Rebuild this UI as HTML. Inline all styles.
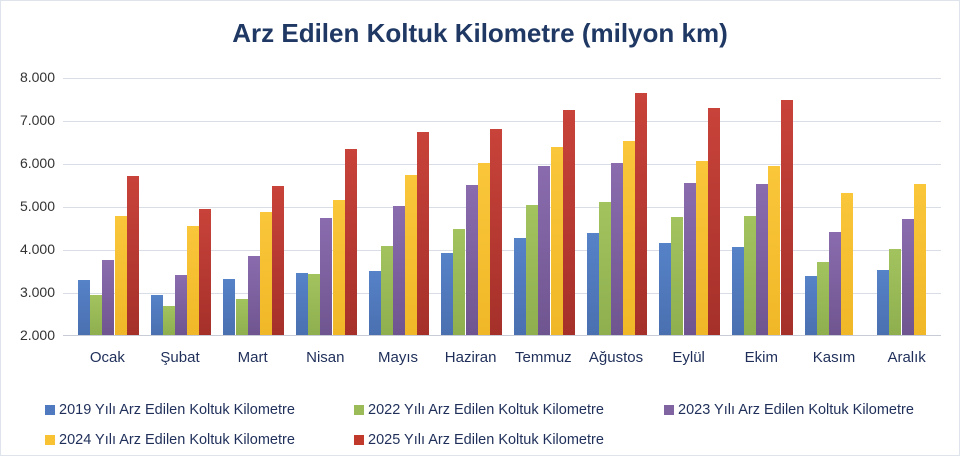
<!DOCTYPE html>
<html><head><meta charset="utf-8"><style>
body{margin:0;background:#fff;font-family:"Liberation Sans",sans-serif}
#c{position:relative;width:958px;height:454px;border:1px solid #dfe3ec;overflow:hidden}
.t{position:absolute;top:17px;left:0;width:958px;text-align:center;font-weight:bold;font-size:26px;color:#1f3864}
.gl{position:absolute;left:62px;width:878px;height:1px;background:#d9dde6}
.yl{position:absolute;left:0;width:54px;text-align:right;font-size:14px;color:#333}
#plot{position:absolute;left:70px;top:0;height:334px;width:872px;display:flex}
.g{width:72.67px;height:334px;display:flex;align-items:flex-end;padding-left:7px;box-sizing:border-box;gap:0.2px;position:relative}
.g div{width:12px}
.a{background:linear-gradient(#5682c8,#4a70b0)}
.b{background:linear-gradient(#a2c35e,#8faf4f)}
.c{background:linear-gradient(#8a6cae,#6f5590)}
.d{background:linear-gradient(#fac63a,#f0b828)}
.e{background:linear-gradient(#c8433a,#a5302a)}
.xl{position:absolute;top:348px;width:72.67px;text-align:center;font-size:15px;color:#1f2f5a}
.lg{position:absolute;font-size:14.5px;color:#1f2f5a;white-space:nowrap}
.lg span{display:inline-block;width:10px;height:10px;margin-right:4px;vertical-align:-1px}
</style></head><body><div id="c">
<div class="t">Arz Edilen Koltuk Kilometre (milyon km)</div>
<div class="gl" style="top:77px"></div><div class="gl" style="top:120px"></div><div class="gl" style="top:163px"></div><div class="gl" style="top:206px"></div><div class="gl" style="top:249px"></div><div class="gl" style="top:292px"></div><div class="gl" style="top:334px;background:#c8ccd6"></div>
<div class="yl" style="top:68px">8.000</div><div class="yl" style="top:111px">7.000</div><div class="yl" style="top:154px">6.000</div><div class="yl" style="top:197px">5.000</div><div class="yl" style="top:240px">4.000</div><div class="yl" style="top:283px">3.000</div><div class="yl" style="top:326px">2.000</div>
<div id="plot">
<div class="g"><div class="a" style="height:55px"></div><div class="b" style="height:40px"></div><div class="c" style="height:75px"></div><div class="d" style="height:119.5px"></div><div class="e" style="height:159px"></div></div>
<div class="g"><div class="a" style="height:40px"></div><div class="b" style="height:29px"></div><div class="c" style="height:60px"></div><div class="d" style="height:109px"></div><div class="e" style="height:126px"></div></div>
<div class="g"><div class="a" style="height:56px"></div><div class="b" style="height:36px"></div><div class="c" style="height:79px"></div><div class="d" style="height:122.6px"></div><div class="e" style="height:149px"></div></div>
<div class="g"><div class="a" style="height:62px"></div><div class="b" style="height:61.5px"></div><div class="c" style="height:117px"></div><div class="d" style="height:135.5px"></div><div class="e" style="height:186px"></div></div>
<div class="g"><div class="a" style="height:64.5px"></div><div class="b" style="height:89px"></div><div class="c" style="height:129px"></div><div class="d" style="height:160.4px"></div><div class="e" style="height:203.4px"></div></div>
<div class="g"><div class="a" style="height:82px"></div><div class="b" style="height:106px"></div><div class="c" style="height:150.5px"></div><div class="d" style="height:172.4px"></div><div class="e" style="height:206.4px"></div></div>
<div class="g"><div class="a" style="height:97px"></div><div class="b" style="height:130px"></div><div class="c" style="height:169.4px"></div><div class="d" style="height:188.3px"></div><div class="e" style="height:225px"></div></div>
<div class="g"><div class="a" style="height:102px"></div><div class="b" style="height:133px"></div><div class="c" style="height:172.4px"></div><div class="d" style="height:194px"></div><div class="e" style="height:242.5px"></div></div>
<div class="g"><div class="a" style="height:91.6px"></div><div class="b" style="height:118px"></div><div class="c" style="height:152px"></div><div class="d" style="height:173.7px"></div><div class="e" style="height:227px"></div></div>
<div class="g"><div class="a" style="height:88px"></div><div class="b" style="height:119.5px"></div><div class="c" style="height:151.4px"></div><div class="d" style="height:169px"></div><div class="e" style="height:235px"></div></div>
<div class="g"><div class="a" style="height:59px"></div><div class="b" style="height:73px"></div><div class="c" style="height:103px"></div><div class="d" style="height:142px"></div></div>
<div class="g"><div class="a" style="height:65.4px"></div><div class="b" style="height:86px"></div><div class="c" style="height:116.5px"></div><div class="d" style="height:151.4px"></div></div>
</div>
<div class="xl" style="left:70px">Ocak</div><div class="xl" style="left:142.7px">Şubat</div><div class="xl" style="left:215.3px">Mart</div><div class="xl" style="left:288px">Nisan</div><div class="xl" style="left:360.7px">Mayıs</div><div class="xl" style="left:433.3px">Haziran</div><div class="xl" style="left:506px">Temmuz</div><div class="xl" style="left:578.7px">Ağustos</div><div class="xl" style="left:651.3px">Eylül</div><div class="xl" style="left:724px">Ekim</div><div class="xl" style="left:796.7px">Kasım</div><div class="xl" style="left:869.3px">Aralık</div>
<div class="lg" style="left:44px;top:401px"><span style="background:#4f7ac0"></span>2019 Yılı Arz Edilen Koltuk Kilometre</div>
<div class="lg" style="left:353px;top:401px"><span style="background:#9bbb59"></span>2022 Yılı Arz Edilen Koltuk Kilometre</div>
<div class="lg" style="left:663px;top:401px"><span style="background:#8064a2"></span>2023 Yılı Arz Edilen Koltuk Kilometre</div>
<div class="lg" style="left:44px;top:431px"><span style="background:#f8c232"></span>2024 Yılı Arz Edilen Koltuk Kilometre</div>
<div class="lg" style="left:353px;top:431px"><span style="background:#c0392b"></span>2025 Yılı Arz Edilen Koltuk Kilometre</div>
</div></body></html>
